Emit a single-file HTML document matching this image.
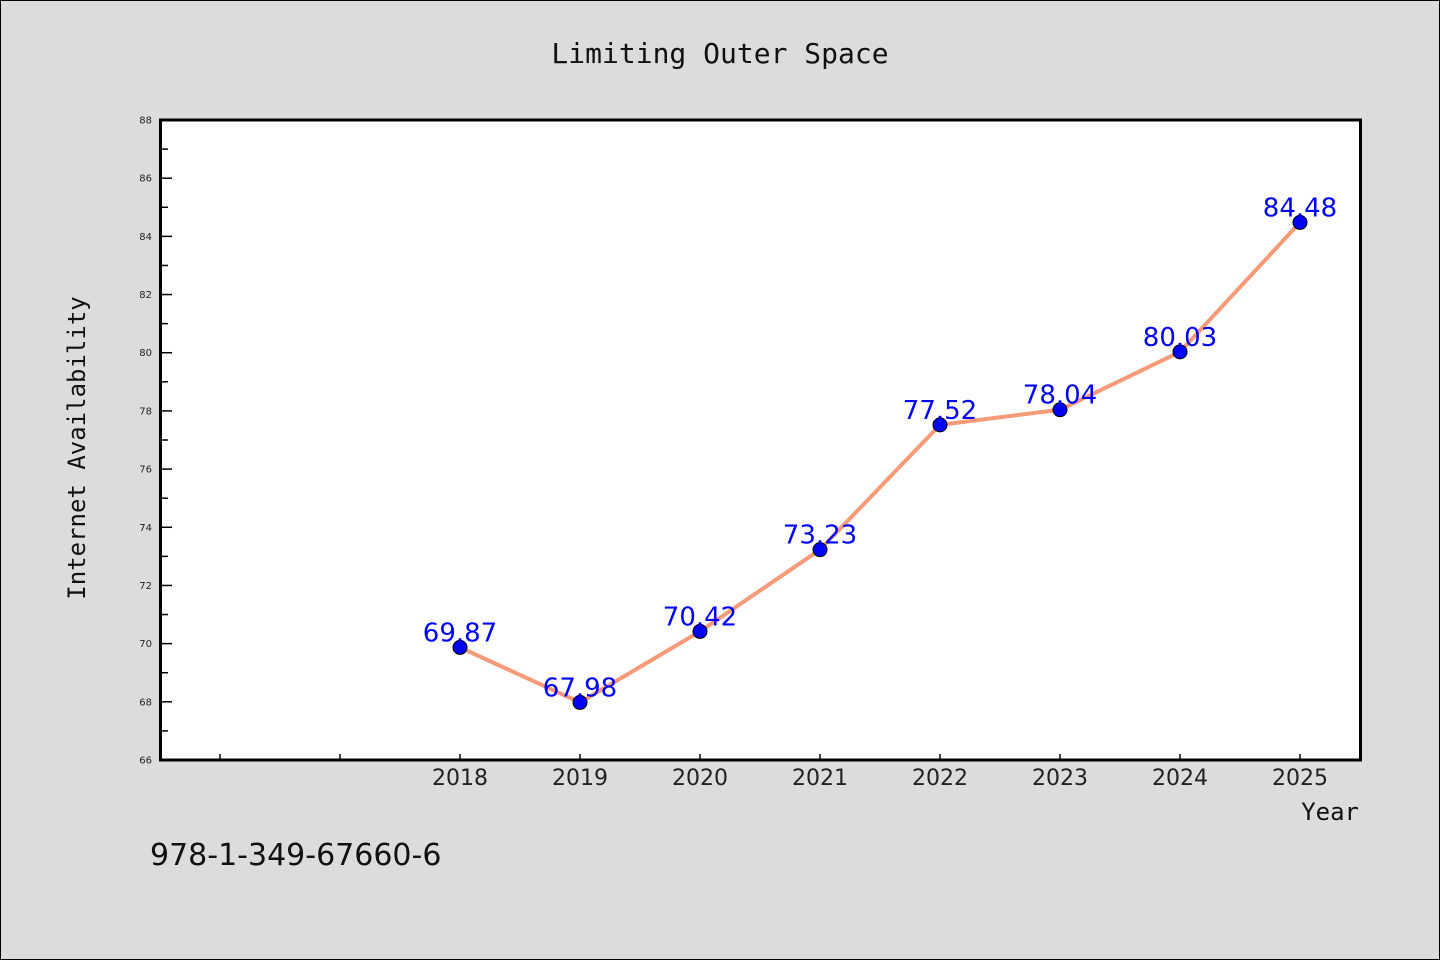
<!DOCTYPE html>
<html><head><meta charset="utf-8"><style>
body{margin:0;background:#dcdcdc;}
svg{display:block;font-family:"DejaVu Sans","Liberation Sans",sans-serif;}
</style></head><body>
<svg id="chart" width="1440" height="960" viewBox="0 0 1440 960">
<rect x="0.5" y="0.5" width="1439" height="959" fill="#dcdcdc" stroke="#000" stroke-width="1"/>
<text x="720" y="63" text-anchor="middle" font-family="DejaVu Sans Mono, monospace" font-size="28" fill="#111">Limiting Outer Space</text>
<rect x="160.5" y="120" width="1200" height="640" fill="#fff"/>
<g id="ticks"></g>
<g id="marks"></g>
<rect x="160.5" y="120" width="1200" height="640" fill="none" stroke="#000" stroke-width="3"/>
<text transform="translate(85,448) rotate(-90)" text-anchor="middle" font-family="DejaVu Sans Mono, monospace" font-size="24" fill="#111">Internet Availability</text>
<text x="1359" y="820" text-anchor="end" font-family="DejaVu Sans Mono, monospace" font-size="24" fill="#111">Year</text>
<text x="150" y="865" font-size="30" fill="#111">978-1-349-67660-6</text>
</svg>
<script>
const years = ["2018","2019","2020","2021","2022","2023","2024","2025"];
const values = [69.87, 67.98, 70.42, 73.23, 77.52, 78.04, 80.03, 84.48];
const labels = ["69.87","67.98","70.42","73.23","77.52","78.04","80.03","84.48"];
const yTicks = [66,68,70,72,74,76,78,80,82,84,86,88];
const NS = "http://www.w3.org/2000/svg";
const yMin = 66, yMax = 88;
function yScale(v){ return 760 - (v - yMin) / (yMax - yMin) * 640; }
function xScale(i){ return 460 + i * 120; }
function mk(tag, attrs, parent){ const e = document.createElementNS(NS, tag); for (const k in attrs) e.setAttribute(k, attrs[k]); parent.appendChild(e); return e; }
const tg = document.getElementById('ticks');
yTicks.forEach(t => {
  const y = yScale(t);
  const l = mk('line', {x1:160, x2:172, y1:y, y2:y, stroke:'#000', 'stroke-width':1.5}, tg);
  
  
  const tx = mk('text', {x:152, y:y+3.5, 'text-anchor':'end', 'font-size':10, fill:'#222'}, tg);
  
  
  tx.textContent = t;
  if (t < yMax) {
    const ym = yScale(t + 1);
    const m = mk('line', {x1:160, x2:168, y1:ym, y2:ym, stroke:'#000', 'stroke-width':1.5}, tg);
    
    
  }
});
for (let i = -2; i < years.length; i++) {
  const x = xScale(i);
  const l = mk('line', {x1:x, x2:x, y1:760, y2:754, stroke:'#000', 'stroke-width':1.5}, tg);
  
  
  if (i >= 0) {
    const tx = mk('text', {x:x, y:785, 'text-anchor':'middle', 'font-size':22, fill:'#222'}, tg);
    
    
    tx.textContent = years[i];
  }
}
const mg = document.getElementById('marks');
const pl = mk('polyline', {points: values.map((v,i)=>xScale(i)+','+yScale(v)).join(' '), fill:'none', stroke:'#f79a78', 'stroke-width':4, 'stroke-linejoin':'round'}, mg);


values.forEach((v,i) => {
  const c = mk('circle', {cx:xScale(i), cy:yScale(v), r:7, fill:'#0000ff', stroke:'#000', 'stroke-width':1}, mg);
  
  
  const t = mk('text', {x:xScale(i), y:yScale(v)-6, 'text-anchor':'middle', 'font-size':26, fill:'#0000ff'}, mg);
  
  
  t.textContent = labels[i];
});
</script>
</body></html>
